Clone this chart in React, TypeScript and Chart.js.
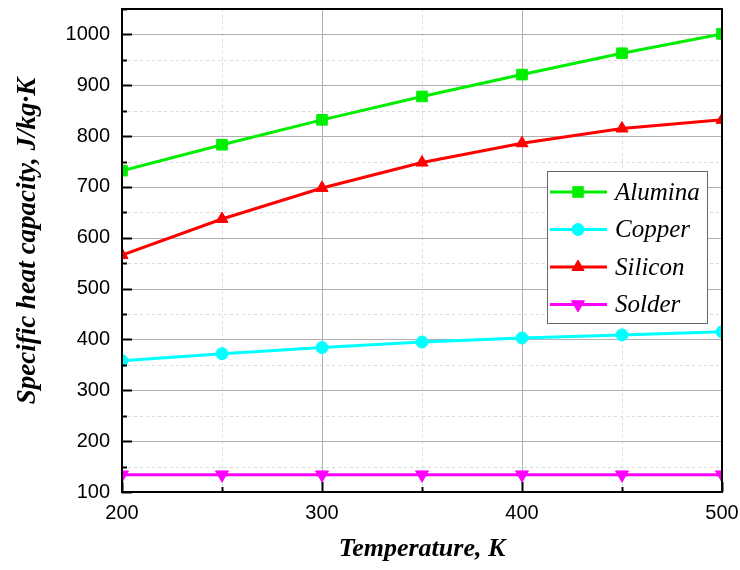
import React, { useEffect, useRef } from "react";
import { Chart, registerables } from "chart.js";

Chart.register(...registerables);

const temperatures = [200, 250, 300, 350, 400, 450, 500];
const alumina = [732, 783, 832, 878, 921, 963, 1001];
const copper = [358, 372, 384, 395, 403, 409, 415];
const silicon = [566, 637, 698, 748, 786, 815, 832];
const solder = [134, 134, 134, 134, 134, 134, 134];

const seriesNames = ["Alumina", "Copper", "Silicon", "Solder"];
const xTicks = [200, 300, 400, 500];
const yTicks = [100, 200, 300, 400, 500, 600, 700, 800, 900, 1000];
const xMinorGrid = [250, 350, 450];
const yMinorGrid = [150, 250, 350, 450, 550, 650, 750, 850, 950, 1050];
const xTitle = "Temperature, K";
const yTitle = "Specific heat capacity, J/kg·K";

const toPoints = (ys: number[]) => temperatures.map((t, i) => ({ x: t, y: ys[i] }));

function drawMarker(ctx: CanvasRenderingContext2D, style: string, x: number, y: number, r: number, rot: number, color: string) {
  ctx.save();
  ctx.fillStyle = color;
  ctx.strokeStyle = color;
  ctx.lineWidth = 1;
  ctx.beginPath();
  if (style === "rect") {
    const s = Math.SQRT1_2 * r;
    ctx.rect(x - s, y - s, 2 * s, 2 * s);
  } else if (style === "circle") {
    ctx.arc(x, y, r, 0, Math.PI * 2);
  } else if (style === "triangle") {
    const a = (rot * Math.PI) / 180;
    for (let k = 0; k < 3; k++) {
      const ang = a - Math.PI / 2 + (k * 2 * Math.PI) / 3;
      const px = x + Math.cos(ang) * r;
      const py = y + Math.sin(ang) * r;
      if (k === 0) ctx.moveTo(px, py);
      else ctx.lineTo(px, py);
    }
    ctx.closePath();
  }
  ctx.fill();
  ctx.stroke();
  ctx.restore();
}

const titleFont = "italic bold 27px 'Liberation Serif', 'DejaVu Serif', serif";

const framePlugin = {
  id: "framePlugin",
  beforeDatasetsDraw(chart: any) {
    const { ctx, chartArea } = chart;
    const xs = chart.scales.x;
    const ys = chart.scales.y;
    ctx.save();
    ctx.strokeStyle = "#dadada";
    ctx.lineWidth = 1;
    ctx.setLineDash([3, 3]);
    xMinorGrid.forEach((v) => {
      const px = Math.round(xs.getPixelForValue(v)) + 0.5;
      ctx.beginPath();
      ctx.moveTo(px, chartArea.top);
      ctx.lineTo(px, chartArea.bottom);
      ctx.stroke();
    });
    yMinorGrid.forEach((v) => {
      const py = Math.round(ys.getPixelForValue(v)) + 0.5;
      ctx.beginPath();
      ctx.moveTo(chartArea.left, py);
      ctx.lineTo(chartArea.right, py);
      ctx.stroke();
    });
    ctx.setLineDash([]);
    ctx.strokeStyle = "#b0b0b0";
    xTicks.forEach((v) => {
      const px = Math.round(xs.getPixelForValue(v)) + 0.5;
      ctx.beginPath();
      ctx.moveTo(px, chartArea.top);
      ctx.lineTo(px, chartArea.bottom);
      ctx.stroke();
    });
    yTicks.forEach((v) => {
      const py = Math.round(ys.getPixelForValue(v)) + 0.5;
      ctx.beginPath();
      ctx.moveTo(chartArea.left, py);
      ctx.lineTo(chartArea.right, py);
      ctx.stroke();
    });
    ctx.restore();
  },
  afterDatasetsDraw(chart: any) {
    const { ctx, chartArea } = chart;
    const xs = chart.scales.x;
    const ys = chart.scales.y;
    ctx.save();
    ctx.strokeStyle = "#000";
    ctx.lineWidth = 2;
    const tick = (x1: number, y1: number, x2: number, y2: number) => {
      ctx.beginPath();
      ctx.moveTo(x1, y1);
      ctx.lineTo(x2, y2);
      ctx.stroke();
    };
    yTicks.forEach((v) => {
      const py = Math.round(ys.getPixelForValue(v)) + 0.5;
      tick(chartArea.left, py, chartArea.left + 10, py);
    });
    yMinorGrid.forEach((v) => {
      const py = Math.round(ys.getPixelForValue(v)) + 0.5;
      tick(chartArea.left, py, chartArea.left + 5, py);
    });
    xTicks.forEach((v) => {
      const px = Math.round(xs.getPixelForValue(v)) + 0.5;
      tick(px, chartArea.bottom, px, chartArea.bottom - 10);
    });
    xMinorGrid.forEach((v) => {
      const px = Math.round(xs.getPixelForValue(v)) + 0.5;
      tick(px, chartArea.bottom, px, chartArea.bottom - 5);
    });
    ctx.strokeStyle = "#000";
    ctx.lineWidth = 2;
    ctx.strokeRect(chartArea.left, chartArea.top, chartArea.right - chartArea.left, chartArea.bottom - chartArea.top);

    // legend box
    const bx = 547, by = 171, bw = 160, bh = 152;
    ctx.fillStyle = "#fff";
    ctx.fillRect(bx, by, bw, bh);
    ctx.strokeStyle = "#666";
    ctx.lineWidth = 1;
    ctx.strokeRect(bx + 0.5, by + 0.5, bw, bh);
    ctx.font = "italic 25px 'Liberation Serif', 'DejaVu Serif', serif";
    ctx.textBaseline = "middle";
    ctx.textAlign = "left";
    chart.data.datasets.forEach((ds: any, i: number) => {
      const cy = 192 + i * 37.5;
      ctx.strokeStyle = ds.borderColor;
      ctx.lineWidth = 3;
      ctx.beginPath();
      ctx.moveTo(550, cy);
      ctx.lineTo(607, cy);
      ctx.stroke();
      drawMarker(ctx, ds.pointStyle, 578, cy, ds.pointRadius, ds.pointRotation || 0, ds.borderColor);
      ctx.fillStyle = "#000";
      ctx.fillText(ds.label, 615, cy + 1);
    });

    // y axis title
    ctx.save();
    ctx.translate(28, 241);
    ctx.rotate(-Math.PI / 2);
    ctx.font = titleFont;
    ctx.fillStyle = "#000";
    ctx.textAlign = "center";
    ctx.textBaseline = "middle";
    ctx.fillText(yTitle, 0, 0);
    ctx.restore();
    ctx.restore();
  },
};

export default function App() {
  const ref = useRef<HTMLCanvasElement | null>(null);
  useEffect(() => {
    if (!ref.current) return;
    const mk = (label: string, ys: number[], color: string, style: string, radius: number, rotation = 0) => ({
      label,
      data: toPoints(ys),
      borderColor: color,
      backgroundColor: color,
      borderWidth: 3,
      pointStyle: style,
      pointRadius: radius,
      pointRotation: rotation,
      pointBackgroundColor: color,
      pointBorderColor: color,
      pointBorderWidth: 1,
      tension: 0,
      clip: 0,
    });
    const chart = new Chart(ref.current, {
      type: "line",
      data: {
        datasets: [
          mk(seriesNames[0], alumina, "#00ee00", "rect", 7.5),
          mk(seriesNames[1], copper, "#00ffff", "circle", 6),
          mk(seriesNames[2], silicon, "#ff0000", "triangle", 7),
          mk(seriesNames[3], solder, "#ff00ff", "triangle", 7.5, 180),
        ] as any,
      },
      options: {
        animation: false,
        responsive: false,
        layout: { padding: { top: 9, right: 18, left: 0, bottom: 0 } },
        plugins: { legend: { display: false }, tooltip: { enabled: false } },
        scales: {
          x: {
            type: "linear",
            min: 200,
            max: 500,
            grid: { display: false, drawTicks: false },
            border: { display: false },
            afterBuildTicks: (s: any) => {
              s.ticks = xTicks.map((v) => ({ value: v }));
            },
            afterFit: (s: any) => {
              s.height = 78;
              s.paddingLeft = 0;
              s.paddingRight = 0;
            },
            ticks: {
              padding: 9,
              color: "#000",
              font: { family: "'Liberation Sans', Arial, sans-serif", size: 20 },
              maxRotation: 0,
              callback: (v: any) => String(v),
            },
            title: {
              display: true,
              text: xTitle,
              color: "#000",
              font: { family: "'Liberation Serif', 'DejaVu Serif', serif", size: 26, style: "italic", weight: "bold" },
              padding: { top: 0, bottom: 5 },
            },
          },
          y: {
            type: "linear",
            min: 100,
            max: 1050,
            grid: { display: false, drawTicks: false },
            border: { display: false },
            afterBuildTicks: (s: any) => {
              s.ticks = yTicks.map((v) => ({ value: v }));
            },
            afterFit: (s: any) => {
              s.width = 122;
              s.paddingTop = 0;
              s.paddingBottom = 0;
            },
            ticks: {
              padding: 12,
              color: "#000",
              font: { family: "'Liberation Sans', Arial, sans-serif", size: 20 },
              callback: (v: any) => String(v),
            },
          },
        },
      },
      plugins: [framePlugin],
    });
    return () => chart.destroy();
  }, []);
  return (
    <div style={{ position: "absolute", left: 0, top: 0, width: 740, height: 570, background: "#fff" }}>
      <canvas ref={ref} width={740} height={570} style={{ display: "block" }} />
    </div>
  );
}
